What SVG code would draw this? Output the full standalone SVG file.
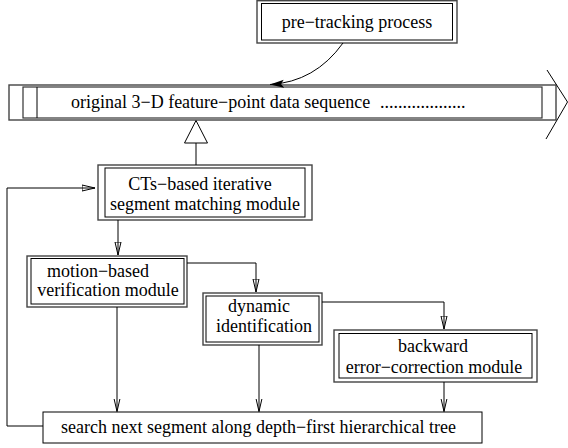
<svg xmlns="http://www.w3.org/2000/svg" width="568" height="448" viewBox="0 0 568 448">
<defs>
<style>
text{font-family:"Liberation Serif","Times New Roman",serif;font-size:18px;fill:#000}
.m{text-anchor:middle}
.o{fill:none;stroke:#444;stroke-width:1.4}
.i{fill:none;stroke:#000;stroke-width:1}
.c{fill:none;stroke:#000;stroke-width:1}
</style>
<marker id="oa" markerUnits="userSpaceOnUse" markerWidth="14" markerHeight="9" refX="13" refY="3.5" orient="auto" viewBox="0 0 14 8">
<path d="M0,0.5 L13,3.5 L0,6.5 Z" fill="none" stroke="#000" stroke-width="1"/>
</marker>
<marker id="fa" markerUnits="userSpaceOnUse" markerWidth="16" markerHeight="10" refX="14" refY="4" orient="auto" viewBox="0 0 16 8">
<path d="M0,0 L14,4 L0,8 L3,4 Z" fill="#000"/>
</marker>
</defs>
<rect width="568" height="448" fill="#fff"/>
<g id="pretracking">
<rect class="o" x="257" y="0.7" width="200" height="42.3"/>
<rect class="i" x="261.5" y="3.5" width="191" height="36.5"/>
<text class="m" x="357" y="28">pre−tracking process</text>
</g>
<g id="sequence">
<rect class="o" x="9" y="85" width="547" height="35"/>
<rect fill="none" stroke="#333" stroke-width="1.2" x="23" y="87" width="519" height="31"/>
<line class="i" x1="37" y1="87" x2="37" y2="118"/>
<polyline class="i" points="547,70 567.5,102 546,139"/>
<text x="71" y="108">original 3−D feature−point data sequence</text>
<text x="380" y="108">...................</text>
</g>
<g id="cts">
<rect class="o" x="98" y="165" width="214" height="55"/>
<rect class="i" x="105" y="168" width="200" height="49"/>
<text class="m" x="200" y="190">CTs−based iterative</text>
<text class="m" x="205" y="210">segment matching module</text>
</g>
<g id="motion">
<rect class="o" x="27" y="256" width="160" height="51"/>
<rect class="i" x="31" y="258.5" width="153" height="45.5"/>
<text class="m" x="98" y="277">motion−based</text>
<text class="m" x="108" y="296">verification module</text>
</g>
<g id="dynamic">
<rect class="o" x="203" y="293" width="119" height="52"/>
<rect class="i" x="206" y="296" width="113" height="46"/>
<text class="m" x="259" y="312">dynamic</text>
<text class="m" x="264" y="332">identification</text>
</g>
<g id="backward">
<rect class="o" x="334" y="330" width="203" height="52"/>
<rect class="i" x="339" y="333.5" width="193" height="44.5"/>
<text class="m" x="433" y="352">backward</text>
<text class="m" x="434" y="373">error−correction module</text>
</g>
<g id="search">
<rect class="i" x="43" y="412" width="439" height="31"/>
<text x="61" y="433">search next segment along depth−first hierarchical tree</text>
</g>
<g id="connectors">
<path class="c" d="M343,43 Q315,82 270,84.5" marker-end="url(#fa)"/>
<line class="c" x1="196" y1="165" x2="196" y2="143"/>
<polygon points="196,120.5 184.5,143 207.5,143" fill="#fff" stroke="#000" stroke-width="1"/>
<polyline class="c" points="43,426 7,426 7,188 95,188" marker-end="url(#oa)"/>
<line class="c" x1="118" y1="220" x2="118" y2="255" marker-end="url(#oa)"/>
<polyline class="c" points="187,263 256,263 256,292" marker-end="url(#oa)"/>
<polyline class="c" points="322,302 444,302 444,329" marker-end="url(#oa)"/>
<line class="c" x1="117" y1="307" x2="117" y2="411.5" marker-end="url(#oa)"/>
<line class="c" x1="259" y1="345" x2="259" y2="411.5" marker-end="url(#oa)"/>
<line class="c" x1="444" y1="382" x2="444" y2="411.5" marker-end="url(#oa)"/>
</g>
</svg>
